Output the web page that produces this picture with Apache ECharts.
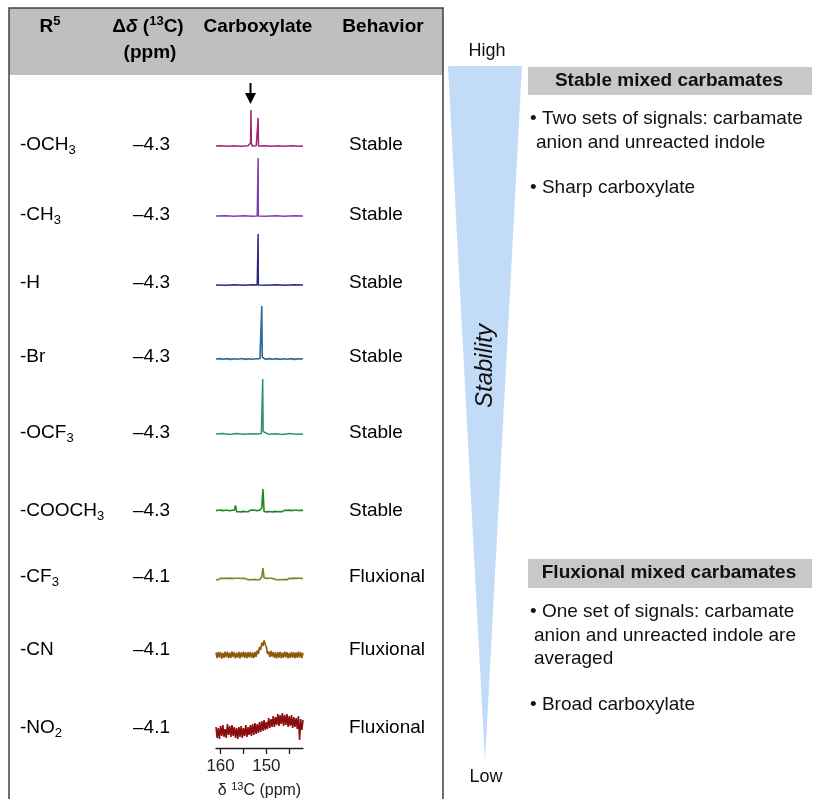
<!DOCTYPE html>
<html><head><meta charset="utf-8">
<script src="https://cdn.jsdelivr.net/npm/echarts@6/dist/echarts.min.js"></script>
<style>html,body{margin:0;padding:0;background:#fff}#main{width:820px;height:799px}</style>
</head><body><div id="main"></div>
<script>
// ---------- DATA ----------
const substituents = ['-OCH{s|3}', '-CH{s|3}', '-H', '-Br', '-OCF{s|3}', '-COOCH{s|3}', '-CF{s|3}', '-CN', '-NO{s|2}'];
const deltaShift = ['\u20134.3', '\u20134.3', '\u20134.3', '\u20134.3', '\u20134.3', '\u20134.3', '\u20134.1', '\u20134.1', '\u20134.1'];
const behavior = ['Stable', 'Stable', 'Stable', 'Stable', 'Stable', 'Stable', 'Fluxional', 'Fluxional', 'Fluxional'];
const seriesColors = ['#a3246f', '#7b3fae', '#2b2a85', '#2a6b9f', '#2e9272', '#1e8a1e', '#6b8e1f', '#8c5a0c', '#8b0c0c'];
const axisTicks = [160, 155, 150, 145];
const axisTickLabels = [160, 150];

// clean spectra: [ppm, intensity]
const specOCH3 = [[161,0],[160,0.3],[158.5,-0.2],[157,0.3],[155.5,-0.2],[154,0.2],[153.6,0],[153.45,3],[153.36,36],[153.28,3],[153.1,0],[152.2,0.2],[151.88,0],[151.8,28],[151.72,0],[150.5,0.2],[149,-0.2],[147.5,0.3],[146,-0.2],[144.5,0.2],[143,-0.2],[142,0]];
const specCH3 = [[161,0],[159,0.3],[157,-0.3],[155,0.3],[153,-0.2],[152,0],[151.85,0],[151.8,58],[151.75,0],[151.5,0.4],[150,-0.3],[148,0.3],[146,-0.3],[144,0.3],[142,0]];
const specH = [[161,0],[159,-0.3],[157,0.3],[155,-0.3],[153,0.2],[152,0],[151.85,0],[151.8,51],[151.75,0],[151.5,0.3],[150,-0.3],[148,0.3],[146,-0.3],[144,0.3],[142,0]];
const specBr = [[161,0],[160.2,0.4],[159.4,-0.3],[158.6,0.4],[157.8,-0.4],[157,0.3],[156.2,-0.3],[155.4,0.5],[154.6,-0.4],[153.8,0.3],[153,-0.3],[152.2,0.3],[151.4,0.3],[151.15,1.5],[151.0,53],[150.9,2],[150.7,0.5],[150.2,-0.4],[149.4,0.4],[148.6,-0.3],[147.8,0.4],[147,-0.4],[146.2,0.3],[145.4,-0.3],[144.6,0.4],[143.8,-0.4],[143,0.3],[142,0]];
const specOCF3 = [[161,0],[159.5,0.4],[158,-0.4],[156.5,0.4],[155,-0.3],[153.5,0.3],[152,0],[151.1,0.5],[150.9,2],[150.8,55],[150.7,2.5],[150.5,0.5],[149.5,-0.3],[148,0.3],[146.5,-0.4],[145,0.4],[143.5,-0.3],[142,0]];

// noisy spectra sampled on a common ppm grid
const ppmFine = [161.00,160.75,160.50,160.25,160.00,159.75,159.50,159.25,159.00,158.75,158.50,158.25,158.00,157.75,157.50,157.25,157.00,156.75,156.50,156.25,156.00,155.75,155.50,155.25,155.00,154.75,154.50,154.25,154.00,153.75,153.50,153.25,153.00,152.75,152.50,152.25,152.00,151.75,151.50,151.25,151.00,150.75,150.50,150.25,150.00,149.75,149.50,149.25,149.00,148.75,148.50,148.25,148.00,147.75,147.50,147.25,147.00,146.75,146.50,146.25,146.00,145.75,145.50,145.25,145.00,144.75,144.50,144.25,144.00,143.75,143.50,143.25,143.00,142.75,142.50,142.25,142.00];
const specCOOCH3 = [0.4,-0.8,0.7,-0.6,0.9,-0.7,0.4,-0.9,0.8,-0.4, 0.8,-0.6,0.3,-0.9,0.7,-0.5,0.9,5.5,-0.6,0.8, -0.8,0.5,-0.9,0.7,-0.4,0.9,-0.7,0.6,-0.8,0.4, 0.8,-0.7,0.9,-0.5,0.7,-0.8,0.4,-0.6,0.8,1.6, 3.0,22,-0.5,0.7,-0.9,0.8,-0.6,0.9,-0.8,0.5, -0.9,0.7,-0.4,0.8,-0.8,0.6,-0.5,0.9,-0.7,0.4, 0.8,-0.9,0.6,-0.6,0.9,-0.8,0.4,-0.8,0.7,-0.3, 0.8,-0.7,0.5,-0.9,0.8,-0.6,0.6];
const specCF3 = [-0.6,0.7,-0.8,0.4,0.8,-0.7,0.6,-0.9,0.8,-0.4, 0.6,-0.8,0.9,-0.5,0.4,-0.8,0.7,-0.6,0.8,-0.4, 0.8,-0.9,0.5,-0.6,0.8,-0.7,0.4,0.9,-0.8,0.6, -0.5,0.8,-0.8,0.6,-0.4,0.8,-0.7,0.9,-0.6,0.4, 2.0,11,1.2,-0.8,0.6,-0.7,0.8,-0.5,0.7,-0.9, 0.4,0.8,-0.6,0.9,-0.8,0.5,-0.6,0.8,-0.8,0.6, -0.4,0.7,-0.9,0.6,0.8,-0.7,0.4,-0.8,0.9,-0.5, 0.6,-0.8,0.8,-0.4,0.7,-0.8,0.4];
const specCN = [2.5,-3.0,3.2,-2.4,2.8,-3.5,2.0,-2.8,3.4,-2.2, 3.0,-3.2,2.4,-2.9,3.5,-2.0,2.7,-3.3,2.2,-2.6, 3.1,-3.4,2.5,-2.1,3.3,-2.9,2.6,-3.1,2.9,-2.4, 3.2,-2.7,2.3,-3.2,3.0,-1.8,4.5,1.0,8.0,5.0, 12.5,9.0,14.5,10.5,8.0,1.0,3.5,-2.0,4.0,-1.5, 3.0,-2.8,2.6,-3.3,2.9,-2.5,3.2,-3.0,2.4,-2.7, 3.4,-2.2,2.8,-3.4,2.1,-2.9,3.1,-2.6,2.7,-3.2, 2.5,-2.8,3.3,-2.3,2.9,-3.1,2.2];
const specNO2 = [5,-6,4,-7,6,-4,7,-5,3,-6, 8,-3,6,-5,7,-4,5,-6,4,-7, 5,-5,6,-6,4,-4,7,-5,5,-3, 7,-4,8,-3,9,-2,8,-1,10,0, 11,1,12,2,10,3,14,4,13,5, 16,5,15,7,18,6,17,8,19,6, 17,7,18,5,16,6,17,4,15,5, 14,3,16,-8,13,2,12];

// ---------- BUILD ----------
const FONT = "'Liberation Sans', Arial, sans-serif";
const pair = arr => ppmFine.map((p, k) => [p, arr[k]]);
const spectra = [specOCH3, specCH3, specH, specBr, specOCF3, pair(specCOOCH3), pair(specCF3), pair(specCN), pair(specNO2)];
const widths = [1.5, 1.5, 1.5, 1.6, 1.5, 1.6, 1.6, 1.6, 1.6];
const rowY = [145, 215, 283, 357, 433, 511, 577, 650, 728];
const baseY = [146, 216, 285, 359, 434, 511, 579, 655, 732];

const grids = [], xAxes = [], yAxes = [], series = [];
for (let i = 0; i < 9; i++) {
  const last = i === 8;
  grids.push(Object.assign({outerBoundsMode: 'none', containLabel: false},
    last ? {left: 216, width: 87, top: 688, height: 60} : {left: 216, width: 87, top: baseY[i] - 60, height: 70}));
  xAxes.push({
    type: 'value', gridIndex: i, min: 142, max: 161, inverse: true, show: last, position: 'bottom',
    splitLine: {show: false},
    axisLine: {show: true, onZero: false, lineStyle: {color: '#222', width: 1.3}},
    axisTick: {show: true, customValues: axisTicks, length: 6, lineStyle: {color: '#222', width: 1.3}},
    axisLabel: {customValues: axisTickLabels, fontSize: 17, color: '#222', fontFamily: FONT, margin: 10},
    name: last ? '{a|\u03B4 }{s|13}{a|C (ppm)}' : '', nameLocation: 'middle', nameGap: 33,
    nameTextStyle: {rich: {a: {fontSize: 16, fontFamily: FONT, color: '#222', lineHeight: 20}, s: {fontSize: 11, fontFamily: FONT, color: '#222', lineHeight: 11, verticalAlign: 'top'}}}
  });
  yAxes.push(last ? {type: 'value', gridIndex: i, min: -16, max: 44, show: false} : {type: 'value', gridIndex: i, min: -10, max: 60, show: false});
  series.push({type: 'line', xAxisIndex: i, yAxisIndex: i, data: spectra[i], showSymbol: false, silent: true,
    lineStyle: {color: seriesColors[i], width: widths[i]}, clip: false});
}

const txtRich = {
  m: {fontSize: 19, fontFamily: FONT, color: '#111', lineHeight: 24},
  s: {fontSize: 13, fontFamily: FONT, color: '#111', lineHeight: 13, verticalAlign: 'bottom'}
};
const hdrRich = {
  b: {fontSize: 19, fontWeight: 'bold', fontFamily: FONT, color: '#111', lineHeight: 24},
  bi: {fontSize: 19, fontWeight: 'bold', fontStyle: 'italic', fontFamily: FONT, color: '#111', lineHeight: 24},
  sup: {fontSize: 13, fontWeight: 'bold', fontFamily: FONT, color: '#111', lineHeight: 13, verticalAlign: 'top'}
};
const wrapM = s => s.split(/(\{s\|\d\})/).filter(Boolean).map(t => t.startsWith('{') ? t : '{m|' + t + '}').join('');

const g = [];
g.push({type: 'rect', shape: {x: 9, y: 8, width: 434, height: 67}, style: {fill: '#bfbfbf'}, z: 0});
g.push({type: 'rect', shape: {x: 9, y: 8, width: 434, height: 830}, style: {fill: 'none', stroke: '#404040', lineWidth: 1.5}, z: 1});
g.push({type: 'text', x: 50, y: 27, style: {text: '{b|R}{sup|5}', rich: hdrRich, align: 'center', verticalAlign: 'middle'}});
g.push({type: 'text', x: 148, y: 27, style: {text: '{b|\u0394}{bi|\u03B4}{b| (}{sup|13}{b|C)}', rich: hdrRich, align: 'center', verticalAlign: 'middle'}});
g.push({type: 'text', x: 150, y: 53, style: {text: '{b|(ppm)}', rich: hdrRich, align: 'center', verticalAlign: 'middle'}});
g.push({type: 'text', x: 258, y: 27, style: {text: '{b|Carboxylate}', rich: hdrRich, align: 'center', verticalAlign: 'middle'}});
g.push({type: 'text', x: 383, y: 27, style: {text: '{b|Behavior}', rich: hdrRich, align: 'center', verticalAlign: 'middle'}});
for (let i = 0; i < 9; i++) {
  g.push({type: 'text', x: 20, y: rowY[i], style: {text: wrapM(substituents[i]), rich: txtRich, align: 'left', verticalAlign: 'middle'}});
  g.push({type: 'text', x: 133, y: rowY[i], style: {text: '{m|' + deltaShift[i] + '}', rich: txtRich, align: 'left', verticalAlign: 'middle'}});
  g.push({type: 'text', x: 349, y: rowY[i], style: {text: '{m|' + behavior[i] + '}', rich: txtRich, align: 'left', verticalAlign: 'middle'}});
}
// arrow
g.push({type: 'line', shape: {x1: 250.5, y1: 83, x2: 250.5, y2: 95}, style: {stroke: '#000', lineWidth: 2}});
g.push({type: 'polygon', shape: {points: [[245, 93], [256, 93], [250.5, 104]]}, style: {fill: '#000'}});
// stability wedge
g.push({type: 'polygon', shape: {points: [[448, 66], [522, 66], [485, 762]]}, style: {fill: '#c2dcf7'}});
g.push({type: 'text', x: 487, y: 51, style: {text: 'High', font: "18px " + FONT, fill: '#111', align: 'center', verticalAlign: 'middle'}});
g.push({type: 'text', x: 486, y: 777, style: {text: 'Low', font: "18px " + FONT, fill: '#111', align: 'center', verticalAlign: 'middle'}});
g.push({type: 'text', x: 485, y: 366, rotation: Math.PI / 2, style: {text: 'Stability', font: "italic 24px " + FONT, fill: '#111', align: 'center', verticalAlign: 'middle'}});
// category boxes
g.push({type: 'rect', shape: {x: 528, y: 67, width: 284, height: 28}, style: {fill: '#c8c8c8'}});
g.push({type: 'text', x: 669, y: 81, style: {text: 'Stable mixed carbamates', font: "bold 19px " + FONT, fill: '#111', align: 'center', verticalAlign: 'middle'}});
g.push({type: 'rect', shape: {x: 528, y: 559, width: 284, height: 29}, style: {fill: '#c8c8c8'}});
g.push({type: 'text', x: 669, y: 573, style: {text: 'Fluxional mixed carbamates', font: "bold 19px " + FONT, fill: '#111', align: 'center', verticalAlign: 'middle'}});
const bul = (x, y, t) => g.push({type: 'text', x, y, style: {text: t, font: "19px " + FONT, fill: '#111', align: 'left', verticalAlign: 'middle'}});
bul(530, 119, '\u2022 Two sets of signals: carbamate');
bul(536, 143, 'anion and unreacted indole');
bul(530, 188, '\u2022 Sharp carboxylate');
bul(530, 612, '\u2022 One set of signals: carbamate');
bul(534, 636, 'anion and unreacted indole are');
bul(534, 659, 'averaged');
bul(530, 705, '\u2022 Broad carboxylate');

const chart = echarts.init(document.getElementById('main'));
chart.setOption({
  animation: false,
  backgroundColor: '#fff',
  grid: grids, xAxis: xAxes, yAxis: yAxes, series: series,
  graphic: g
});
</script></body></html>
